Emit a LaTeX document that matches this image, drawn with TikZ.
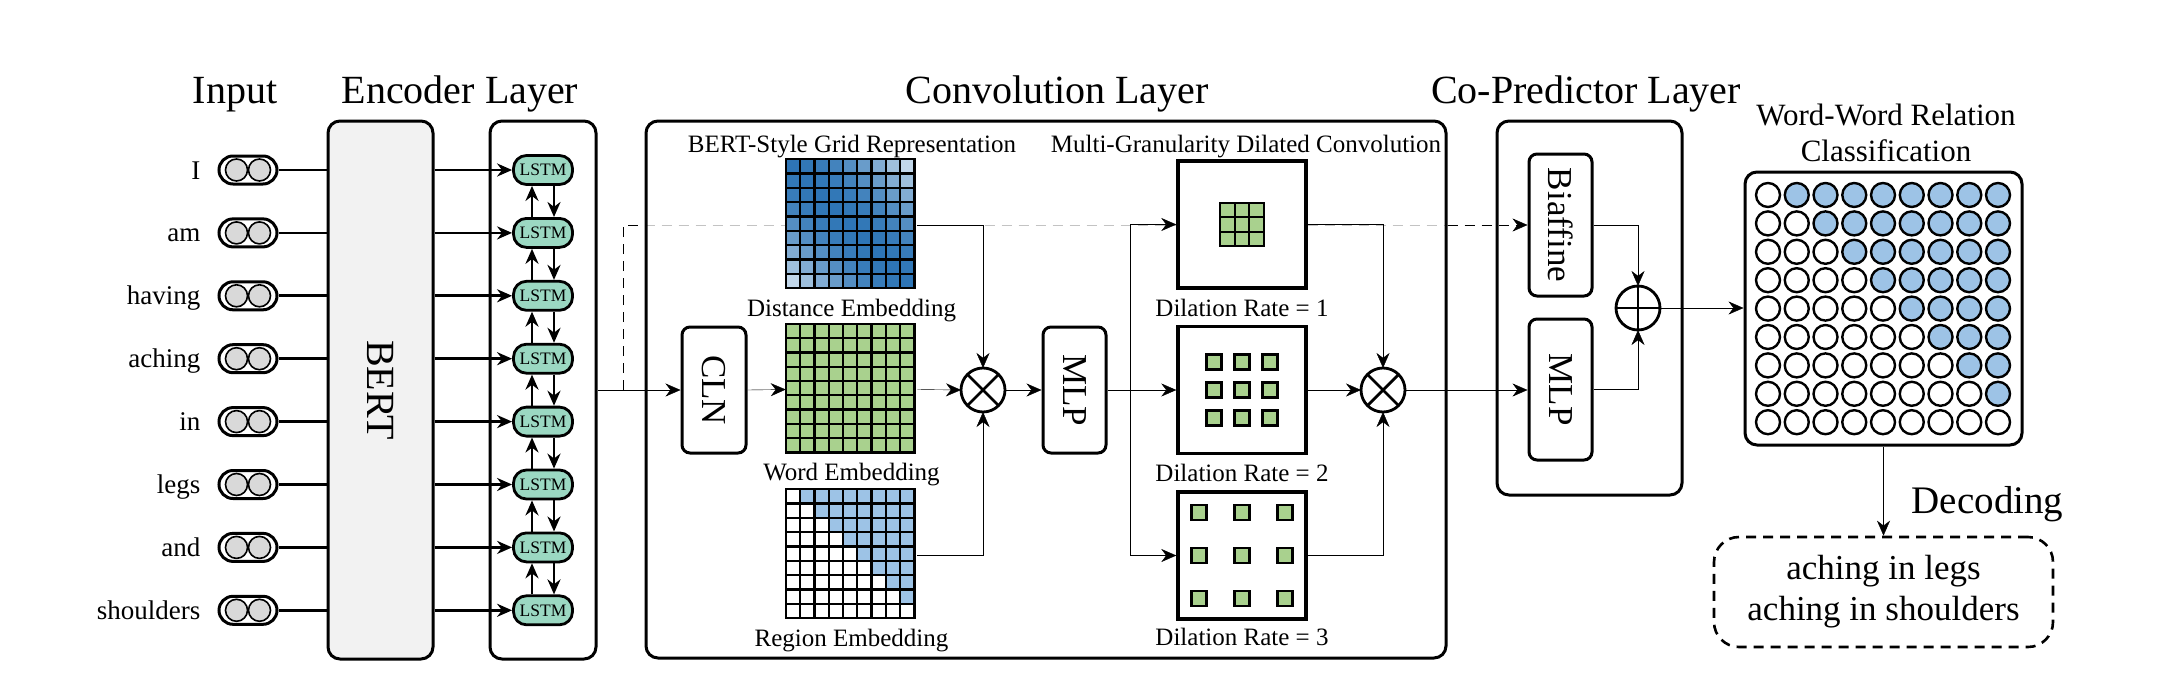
\documentclass[tikz,border=0pt]{standalone}
\usepackage{fontspec}
\setmainfont{Liberation Serif}
\usepackage{graphicx}
\usepackage{xcolor}
\usepackage{tikz}
\usetikzlibrary{arrows.meta,backgrounds}

\definecolor{lstmgreen}{RGB}{155,216,194}
\definecolor{gridgreen}{RGB}{169,209,142}
\definecolor{lightblue}{RGB}{157,195,230}
\definecolor{darkblue}{RGB}{46,117,182}
\definecolor{bertgray}{RGB}{242,242,242}
\definecolor{pillgray}{RGB}{217,217,217}
\definecolor{dashgray}{RGB}{195,195,195}
\newcommand{\fs}[1]{\fontsize{#1}{#1}\selectfont}

\begin{document}
\begin{tikzpicture}[x=1pt, y=-1pt, line width=2.8pt, >={Stealth[length=15pt,width=13pt]},
    ttl/.style={font=\fs{40}, anchor=base},
    sub/.style={font=\fs{25}, anchor=base},
    word/.style={font=\fs{27}, anchor=base east},
    panel/.style={draw, line width=3pt, rounded corners=12pt, inner sep=0pt},
    blk/.style={draw, line width=3pt, rounded corners=8pt, fill=white, inner sep=0pt, font=\fs{35}},
    pill/.style={draw, line width=3pt, rounded corners=14pt, fill=white, minimum width=58, minimum height=28},
    lstm/.style={draw, line width=2.8pt, rounded corners=13pt, fill=lstmgreen, minimum width=59, minimum height=29, inner sep=0pt, font=\fs{17.5}},
    grid/.style={minimum size=128.7, inner sep=0pt},
    cell/.style={draw, line width=2.3pt},
    dbox/.style={draw, line width=3.4pt, fill=white, minimum width=128, minimum height=127, inner sep=0pt},
    op/.style={draw, circle, fill=white, minimum size=44, inner sep=0pt, outer sep=0pt},
    dsh/.style={dash pattern=on 10pt off 7pt}]
\useasboundingbox (0,0) rectangle (2175,693);

% titles
\node[ttl] (tinput) at (235,103) {Input};
\node[ttl] (tenc) at (460,103) {Encoder Layer};
\node[ttl] (tconv) at (1057,103) {Convolution Layer};
\node[ttl] (tcop) at (1586,103) {Co-Predictor Layer};
\node[sub, font=\fs{31}] (twwr) at (1886,125) {Word-Word Relation};
\node[sub, font=\fs{31}] (tcls) at (1886,161) {Classification};

% encoder layer
\node[panel, fill=bertgray, minimum width=105, minimum height=538] (bert) at (380.5,390) {\fs{40}\rotatebox{-90}{BERT}};
\node[panel, minimum width=106, minimum height=538] (lstmbox) at (543,390) {};
\foreach \w [count=\i from 0] in {I,am,having,aching,in,legs,and,shoulders} {
  \pgfmathsetmacro\yy{170+62.9*\i}
  \node[word] (w\i) at (205,\yy+9) {\w};
  \node[pill] (p\i) at (248,\yy) {};
  \draw[line width=1.6pt, fill=pillgray] ([xshift=-11.5pt]p\i.center) circle (11pt);
  \draw[line width=1.6pt, fill=pillgray] ([xshift=11.5pt]p\i.center) circle (11pt);
  \node[lstm] (l\i) at (543,\yy) {LSTM};
  \draw (p\i.east) -- (bert.west |- p\i);
  \draw[->] (bert.east |- l\i) -- (l\i.west);
}
\foreach \i [evaluate=\i as \j using int(\i+1)] in {0,...,6} {
  \draw[->] ([xshift=-11pt]l\j.north) -- ([xshift=-11pt]l\i.south);
  \draw[->] ([xshift=11pt]l\i.south) -- ([xshift=11pt]l\j.north);
}

% convolution layer
\node[panel, minimum width=800, minimum height=537] (conv) at (1046,389.5) {};
\node[blk, minimum width=64, minimum height=126] (cln) at (714,390) {\rotatebox{-90}{CLN}};
\node[sub] (lgrid) at (852,152) {BERT-Style Grid Representation};
\node[sub] (lmgdc) at (1246,152) {Multi-Granularity Dilated Convolution};

\node[grid] (dist) at (851.5,225) {};
\node[grid] (word) at (851.5,389.5) {};
\node[grid] (region) at (851.5,555) {};
\foreach \r in {0,...,8} \foreach \c in {0,...,8} {
  \pgfmathtruncatemacro\p{100-1.1*(\r-\c)*(\r-\c)}
  \filldraw[cell, fill=darkblue!\p!white] ([shift={(14.3*\c,14.3*\r)}]dist.north west) rectangle ++(14.3,14.3);
  \filldraw[cell, fill=gridgreen] ([shift={(14.3*\c,14.3*\r)}]word.north west) rectangle ++(14.3,14.3);
  \ifnum\c>\r \def\clr{lightblue}\else \def\clr{white}\fi
  \filldraw[cell, fill=\clr] ([shift={(14.3*\c,14.3*\r)}]region.north west) rectangle ++(14.3,14.3);
}
\node[sub] (ldist) at (851.5,316) {Distance Embedding};
\node[sub] (lword) at (851.5,480) {Word Embedding};
\node[sub] (lreg) at (851.5,646) {Region Embedding};

\node[op] (mul1) at (983,390) {};
\draw (mul1.north west) -- (mul1.south east); \draw (mul1.north east) -- (mul1.south west);
\node[blk, minimum width=63, minimum height=126] (mlp1) at (1074.5,390) {\rotatebox{-90}{MLP}};

\node[dbox] (dil1) at (1242,224.5) {};
\node[dbox] (dil2) at (1242,390) {};
\node[dbox] (dil3) at (1242,555.5) {};
\foreach \r in {0,1,2} \foreach \c in {0,1,2}
  \filldraw[cell, fill=gridgreen] ([shift={(-21.75+14.5*\c,-21.75+14.5*\r)}]dil1.center) rectangle ++(14.5,14.5);
\foreach \r in {-1,0,1} \foreach \c in {-1,0,1} {
  \filldraw[cell, fill=gridgreen] ([shift={(28*\c-7.5,28*\r-7.5)}]dil2.center) rectangle ++(15,15);
  \filldraw[cell, fill=gridgreen] ([shift={(43*\c-7.5,43*\r-7.5)}]dil3.center) rectangle ++(15,15);
}
\node[sub] (ld1) at (1242,316) {Dilation Rate = 1};
\node[sub] (ld2) at (1242,481) {Dilation Rate = 2};
\node[sub] (ld3) at (1242,645) {Dilation Rate = 3};
\node[op] (mul2) at (1383,390) {};
\draw (mul2.north west) -- (mul2.south east); \draw (mul2.north east) -- (mul2.south west);

% co-predictor layer
\node[panel, minimum width=185, minimum height=374] (cop) at (1589.5,308) {};
\node[blk, minimum width=63, minimum height=142] (biaf) at (1560.5,225) {\rotatebox{-90}{Biaffine}};
\node[blk, minimum width=63, minimum height=141] (mlp2) at (1560.5,389.5) {\rotatebox{-90}{MLP}};
\node[op] (add) at (1638,308) {};
\draw (add.north) -- (add.south); \draw (add.west) -- (add.east);

% output
\node[panel, fill=white, minimum width=277, minimum height=273] (out) at (1883.5,308.5) {};
\foreach \r in {0,...,8} \foreach \c in {0,...,8} {
  \ifnum\c>\r \def\clr{lightblue}\else \def\clr{white}\fi
  \draw[line width=2.4pt, fill=\clr] ([shift={(-115.5+28.75*\c,-113.5+28.4*\r)}]out.center) circle (12pt);
}
\node[draw, dsh, line width=2.6pt, rounded corners=25pt, minimum width=339, minimum height=110, align=center,
  font=\fontsize{35}{41}\selectfont] (dec) at (1883.5,592) {aching in legs\\aching in shoulders};
\node[font=\fs{39}, anchor=base west] (ldec) at (1907,513) {Decoding};

% connectors
\coordinate (split) at (623,390);
\coordinate (br) at (1130,390);
\begin{pgfonlayer}{background}
  \draw[dsh, dashgray] (conv.west |- dist.east) -- (conv.east |- dist.east);
\end{pgfonlayer}
\draw[dsh] (split) |- (conv.west |- dist.east);
\draw[dsh, ->] (conv.east |- dist.east) -- (biaf.west);
\draw[->] (lstmbox.east) -- (cln.west);
\draw[->] (cln.east) -- (word.west);
\draw[->] (dist.east) -| (mul1.north);
\draw[->] (word.east) -- (mul1.west);
\draw[->] (region.east) -| (mul1.south);
\draw[->] (mul1.east) -- (mlp1.west);
\draw (mlp1.east) -- (br);
\draw[->] (br) |- (dil1.west);
\draw[->] (br) -- (dil2.west);
\draw[->] (br) |- (dil3.west);
\draw[->] (dil1.east) -| (mul2.north);
\draw[->] (dil2.east) -- (mul2.west);
\draw[->] (dil3.east) -| (mul2.south);
\draw[->] (mul2.east) -- (mlp2.west |- mul2);
\draw[->] (biaf.east) -| (add.north);
\draw[->] (mlp2.east) -| (add.south);
\draw[->] (add.east) -- (out.west |- add);
\draw[->] (out.south) -- (dec.north);
\end{tikzpicture}
\end{document}
